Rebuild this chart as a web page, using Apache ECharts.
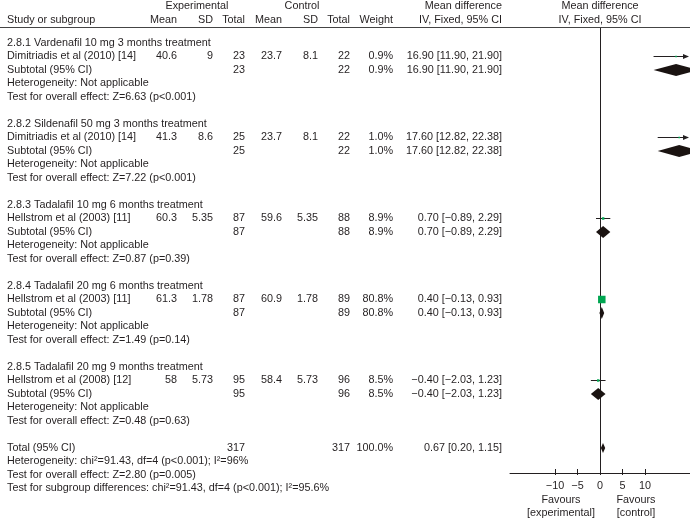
<!DOCTYPE html>
<html><head><meta charset="utf-8">
<script src="https://cdn.jsdelivr.net/npm/echarts@6/dist/echarts.min.js"></script>
<style>html,body{margin:0;padding:0;background:#fff}#c{width:690px;height:519px}</style>
</head><body><div id="c"></div>
<script>
// ---------- data ----------
const groupTitles = [
  '2.8.1 Vardenafil 10 mg 3 months treatment',
  '2.8.2 Sildenafil 50 mg 3 months treatment',
  '2.8.3 Tadalafil 10 mg 6 months treatment',
  '2.8.4 Tadalafil 20 mg 6 months treatment',
  '2.8.5 Tadalafil 20 mg 9 months treatment'
];
const studies = [
  'Dimitriadis et al (2010) [14]',
  'Dimitriadis et al (2010) [14]',
  'Hellstrom et al (2003) [11]',
  'Hellstrom et al (2003) [11]',
  'Hellstrom et al (2008) [12]'
];
const expMean = [40.6, 41.3, 60.3, 61.3, 58];
const expSD = ['9', '8.6', '5.35', '1.78', '5.73'];
const expTotal = [23, 25, 87, 87, 95];
const ctrlMean = [23.7, 23.7, 59.6, 60.9, 58.4];
const ctrlSD = ['8.1', '8.1', '5.35', '1.78', '5.73'];
const ctrlTotal = [22, 22, 88, 89, 96];
const weights = [0.9, 1.0, 8.9, 80.8, 8.5];
const meanDiff = [16.90, 17.60, 0.70, 0.40, -0.40];
const ciLow = [11.90, 12.82, -0.89, -0.13, -2.03];
const ciHigh = [21.90, 22.38, 2.29, 0.93, 1.23];
const overallZ = ['6.63 (p<0.001)', '7.22 (p<0.001)', '0.87 (p=0.39)', '1.49 (p=0.14)', '0.48 (p=0.63)'];
const totalN = [317, 317];
const totalWeight = 100.0;
const totalMD = [0.67, 0.20, 1.15];
const totalTexts = [
  'Heterogeneity: chi\u00b2=91.43, df=4 (p<0.001); I\u00b2=96%',
  'Test for overall effect: Z=2.80 (p=0.005)',
  'Test for subgroup differences: chi\u00b2=91.43, df=4 (p<0.001); I\u00b2=95.6%'
];
const xTicks = [-10, -5, 0, 5, 10];
const xRange = [-20, 20];

// ---------- layout ----------
const W = 690, H = 519;
const ROW_H = 13.5, ROW0 = 43;
const PLOT_TOP = 28, PLOT_BOTTOM = 473, PLOT_LEFT = 510;
const FONT_SIZE = 10.8;
const FAMILY = '"Liberation Sans", Arial, Helvetica, sans-serif';
const FONT = FONT_SIZE + 'px ' + FAMILY;
const TXT = '#231f20';
const COL = {study: 7, expMean: 177, expSD: 213, expTotal: 245, ctlMean: 282, ctlSD: 318, ctlTotal: 350, weight: 393, md: 502};
const rowOfY = y => (y - ROW0) / ROW_H;
const minus = s => String(s).replace(/-/g, '\u2212');
const fmtMD = (m, l, h) => minus(m.toFixed(2)) + ' [' + minus(l.toFixed(2)) + ', ' + minus(h.toFixed(2)) + ']';

const items = [];
function t(x, row, text, align) { items.push({x, row, text: String(text), align: align || 'right'}); }

const hr1 = rowOfY(6.5), hr2 = rowOfY(20.5);
t(197, hr1, 'Experimental', 'center');
t(302, hr1, 'Control', 'center');
t(COL.md, hr1, 'Mean difference');
t(600, hr1, 'Mean difference', 'center');
t(COL.study, hr2, 'Study or subgroup', 'left');
t(COL.expMean, hr2, 'Mean'); t(COL.expSD, hr2, 'SD'); t(COL.expTotal, hr2, 'Total');
t(COL.ctlMean, hr2, 'Mean'); t(COL.ctlSD, hr2, 'SD'); t(COL.ctlTotal, hr2, 'Total');
t(COL.weight, hr2, 'Weight');
t(COL.md, hr2, 'IV, Fixed, 95% CI');
t(600, hr2, 'IV, Fixed, 95% CI', 'center');

groupTitles.forEach((g, i) => {
  const r = 6 * i;
  t(COL.study, r, g, 'left');
  t(COL.study, r + 1, studies[i], 'left');
  t(COL.expMean, r + 1, expMean[i]); t(COL.expSD, r + 1, expSD[i]); t(COL.expTotal, r + 1, expTotal[i]);
  t(COL.ctlMean, r + 1, ctrlMean[i]); t(COL.ctlSD, r + 1, ctrlSD[i]); t(COL.ctlTotal, r + 1, ctrlTotal[i]);
  t(COL.weight, r + 1, weights[i].toFixed(1) + '%');
  t(COL.md, r + 1, fmtMD(meanDiff[i], ciLow[i], ciHigh[i]));
  t(COL.study, r + 2, 'Subtotal (95% CI)', 'left');
  t(COL.expTotal, r + 2, expTotal[i]); t(COL.ctlTotal, r + 2, ctrlTotal[i]);
  t(COL.weight, r + 2, weights[i].toFixed(1) + '%');
  t(COL.md, r + 2, fmtMD(meanDiff[i], ciLow[i], ciHigh[i]));
  t(COL.study, r + 3, 'Heterogeneity: Not applicable', 'left');
  t(COL.study, r + 4, 'Test for overall effect: Z=' + overallZ[i], 'left');
});
const TR = 30;
t(COL.study, TR, 'Total (95% CI)', 'left');
t(COL.expTotal, TR, totalN[0]); t(COL.ctlTotal, TR, totalN[1]);
t(COL.weight, TR, totalWeight.toFixed(1) + '%');
t(COL.md, TR, fmtMD(totalMD[0], totalMD[1], totalMD[2]));
totalTexts.forEach((s, k) => t(COL.study, TR + 1 + k, s, 'left'));
t(561, rowOfY(500), 'Favours', 'center');
t(561, rowOfY(513), '[experimental]', 'center');
t(636, rowOfY(500), 'Favours', 'center');
t(636, rowOfY(513), '[control]', 'center');

const studyData = studies.map((s, i) => [ciLow[i], ciHigh[i], 6 * i + 1, meanDiff[i], weights[i]]);
const diamondData = groupTitles.map((g, i) => [ciLow[i], meanDiff[i], ciHigh[i], 6 * i + 2, 6]);
diamondData.push([totalMD[1], totalMD[0], totalMD[2], TR, 5]);

const chart = echarts.init(document.getElementById('c'), null, {renderer: 'canvas'});
chart.setOption({
  animation: false,
  backgroundColor: '#fff',
  grid: [
    {left: PLOT_LEFT, right: 0, top: PLOT_TOP, bottom: H - PLOT_BOTTOM},
    {left: 0, right: 0, top: 0, bottom: 0}
  ],
  xAxis: [
    {gridIndex: 0, type: 'value', min: xRange[0], max: xRange[1], position: 'bottom',
     axisLine: {onZero: false, lineStyle: {color: TXT, width: 1}},
     axisTick: {customValues: xTicks, inside: true, length: 4, lineStyle: {color: TXT}},
     axisLabel: {customValues: xTicks, formatter: v => minus(v), color: TXT, fontSize: FONT_SIZE,
                 fontFamily: FAMILY, margin: 8},
     splitLine: {show: false}},
    {gridIndex: 1, type: 'value', min: 0, max: W, show: false},
    {gridIndex: 0, type: 'value', min: xRange[0], max: xRange[1], position: 'bottom', offset: 0,
     axisLine: {show: false, onZero: false},
     axisTick: {customValues: xTicks, inside: false, length: 2, lineStyle: {color: TXT}},
     axisLabel: {show: false}, splitLine: {show: false}}
  ],
  yAxis: [
    {gridIndex: 0, type: 'value', inverse: true, min: rowOfY(PLOT_TOP), max: rowOfY(PLOT_BOTTOM),
     axisLine: {show: true, onZero: true, onZeroAxisIndex: 0, lineStyle: {color: TXT, width: 1}},
     axisTick: {show: false}, axisLabel: {show: false}, splitLine: {show: false}},
    {gridIndex: 1, type: 'value', inverse: true, min: rowOfY(0), max: rowOfY(H), show: false}
  ],
  series: [
    {
      type: 'custom', xAxisIndex: 1, yAxisIndex: 1, silent: true,
      data: items.map((it, i) => [it.x, it.row, i]),
      renderItem: (p, api) => {
        const it = items[api.value(2)];
        const pt = api.coord([api.value(0), api.value(1)]);
        return {type: 'text', x: pt[0], y: pt[1],
          style: {text: it.text, textAlign: it.align, align: it.align, textVerticalAlign: 'middle', verticalAlign: 'middle',
                  fill: TXT, font: FONT}};
      }
    },
    {
      type: 'custom', xAxisIndex: 1, yAxisIndex: 1, silent: true,
      data: [[0, W, rowOfY(27.5)]],
      renderItem: (p, api) => {
        const a = api.coord([api.value(0), api.value(2)]), b = api.coord([api.value(1), api.value(2)]);
        return {type: 'line', shape: {x1: a[0], y1: a[1], x2: b[0], y2: b[1]}, style: {stroke: '#444', lineWidth: 1}};
      }
    },
    {
      type: 'custom', xAxisIndex: 0, yAxisIndex: 0, silent: true, clip: false,
      data: studyData,
      renderItem: (p, api) => {
        const lo = api.value(0), hi = api.value(1), row = api.value(2), m = api.value(3), w = api.value(4);
        const a = api.coord([Math.max(lo, xRange[0]), row]);
        const b = api.coord([Math.min(hi, xRange[1]), row]);
        const c = api.coord([m, row]);
        const arrow = hi > xRange[1];
        const endX = arrow ? b[0] - 2 : b[0];
        const ch = [{type: 'line', shape: {x1: a[0], y1: a[1], x2: endX, y2: b[1]}, style: {stroke: TXT, lineWidth: 1}}];
        if (arrow) ch.push({type: 'polygon', shape: {points: [[endX + 1, b[1]], [endX - 5, b[1] - 2.5], [endX - 5, b[1] + 2.5]]}, style: {fill: TXT}});
        const s = Math.max(1.6, 7.5 * Math.sqrt(w / 80.8));
        ch.push({type: 'rect', shape: {x: c[0] - s / 2, y: c[1] - s / 2, width: s, height: s}, style: {fill: '#00a651'}});
        return {type: 'group', children: ch};
      }
    },
    {
      type: 'custom', xAxisIndex: 0, yAxisIndex: 0, silent: true, clip: false,
      data: diamondData,
      renderItem: (p, api) => {
        const row = api.value(3), hh = api.value(4);
        const l = api.coord([api.value(0), row]), m = api.coord([api.value(1), row]), h = api.coord([api.value(2), row]);
        return {type: 'polygon', shape: {points: [[l[0], l[1]], [m[0], m[1] - hh], [h[0], h[1]], [m[0], m[1] + hh]]},
                style: {fill: '#1a1311'}};
      }
    }
  ]
});
</script></body></html>
